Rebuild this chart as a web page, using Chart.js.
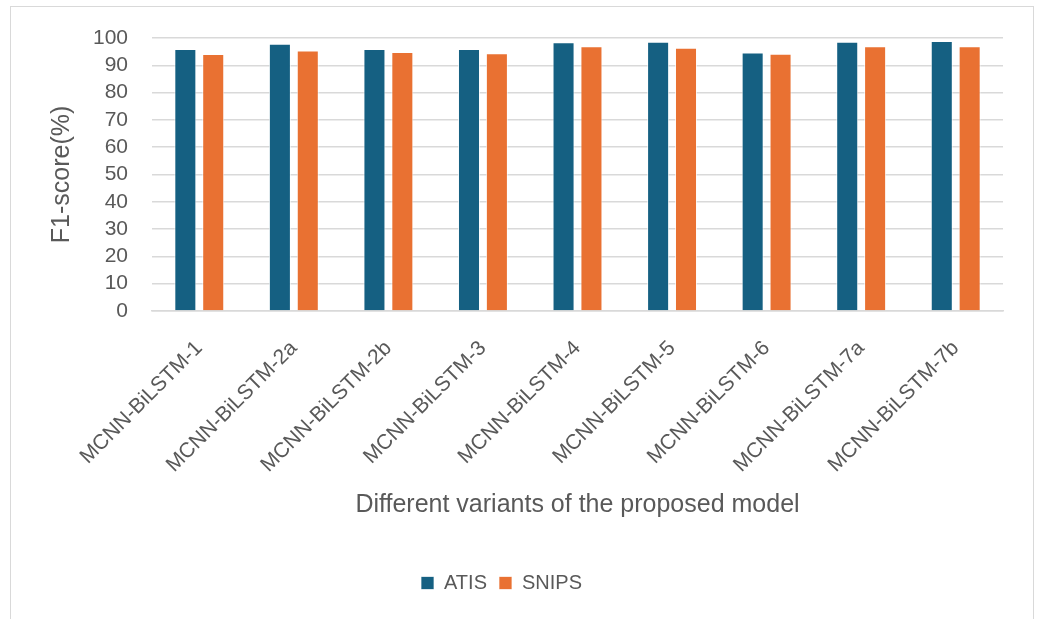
<!DOCTYPE html>
<html lang="en">
<head>
<meta charset="UTF-8" />
<title>F1-score by model variant</title>
<style>
  body { margin: 0; background: #fff; font-family: "Liberation Sans", Arial, sans-serif; }
  .frame { position: absolute; left: 10px; top: 6px; width: 1022px; height: 640px; border: 1.5px solid #d9d9d9; }
  .wrap { position: absolute; left: 0; top: 0; width: 1040px; height: 619px; }
</style>
</head>
<body>
<div class="frame"></div>
<div class="wrap"><canvas id="chart" width="1040" height="619"></canvas></div>

<script src="https://cdn.jsdelivr.net/npm/chart.js"></script>
<script>
  const variants = ['MCNN-BiLSTM-1', 'MCNN-BiLSTM-2a', 'MCNN-BiLSTM-2b', 'MCNN-BiLSTM-3', 'MCNN-BiLSTM-4',
                    'MCNN-BiLSTM-5', 'MCNN-BiLSTM-6', 'MCNN-BiLSTM-7a', 'MCNN-BiLSTM-7b'];
  const atis  = [96.0, 97.9, 96.0, 96.0, 98.4, 98.6, 94.7, 98.6, 98.9];
  const snips = [94.1, 95.4, 94.9, 94.4, 97.0, 96.4, 94.2, 97.0, 97.0];

  const textColor = '#595959';
  const gridColor = '#d9d9d9';

  new Chart(document.getElementById('chart'), {
    type: 'bar',
    data: {
      labels: variants,
      datasets: [
        { label: 'ATIS', data: atis, backgroundColor: '#156082', borderColor: 'rgba(255,255,255,0.7)', borderWidth: 1 },
        { label: 'SNIPS', data: snips, backgroundColor: '#e97132', borderColor: 'rgba(255,255,255,0.7)', borderWidth: 1 }
      ]
    },
    options: {
      responsive: false,
      animation: false,
      layout: { padding: { top: 38, right: 37, left: 0, bottom: 16 } },
      datasets: { bar: { categoryPercentage: 0.59, barPercentage: 0.79 } },
      plugins: {
        tooltip: { enabled: false },
        legend: {
          position: 'bottom',
          labels: { color: textColor, font: { size: 20 }, boxWidth: 13, boxHeight: 13, padding: 12 }
        }
      },
      scales: {
        x: {
          grid: { display: false },
          border: { color: gridColor, width: 1.5 },
          ticks: { color: textColor, font: { size: 21 }, minRotation: 45, maxRotation: 45, autoSkip: false, padding: 17 },
          title: { display: true, text: 'Different variants of the proposed model', color: textColor,
                   font: { size: 25 }, padding: { top: 0, bottom: 41 } },
          afterFit: s => { s.height = 250; }
        },
        y: {
          min: 0, max: 100,
          ticks: { stepSize: 10, autoSkip: false, color: textColor, font: { size: 21 }, padding: 24 },
          grid: { color: gridColor, lineWidth: 1.5, drawTicks: false },
          border: { display: false },
          title: { display: true, text: 'F1-score(%)', color: textColor, font: { size: 25 }, padding: { top: 47, bottom: 0 } },
          afterFit: s => { s.width = 152; }
        }
      }
    }
  });
</script>
</body>
</html>
